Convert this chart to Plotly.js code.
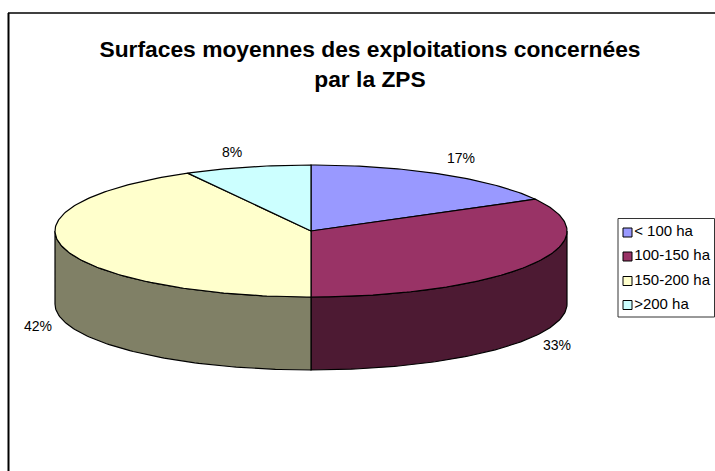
<!DOCTYPE html>
<html>
<head>
<meta charset="utf-8">
<script src="https://cdn.plot.ly/plotly-3.0.1.min.js"></script>
<style>html,body{margin:0;padding:0;background:#fff}#chart{width:715px;height:471px}</style>
</head>
<body>
<div id="chart"></div>
<script>
var categories = ['< 100 ha', '100-150 ha', '150-200 ha', '>200 ha'];
var shares = [17, 33, 42, 8];
var topColors = ['#9999FF', '#993366', '#FFFFCC', '#CCFFFF'];
var sideColors = ['#4D4D80', '#4D1A33', '#808066', '#668080'];
var titleText = 'Surfaces moyennes des exploitations concernées<br>par la ZPS';

// Pie geometry, in page pixels
var W = 715, H = 471, CX = 311, CY = 231, RX = 256, RY = 66, DEPTH = 73;
var FONT = '"Liberation Sans", Arial, sans-serif';

function pt(deg, drop) {
  var a = deg * Math.PI / 180;
  return [CX + RX * Math.sin(a), CY - RY * Math.cos(a) + (drop || 0)];
}
function arc(a, b, drop) {
  var out = [], n = Math.max(2, Math.ceil(Math.abs(b - a)));
  for (var i = 0; i <= n; i++) out.push(pt(a + (b - a) * i / n, drop));
  return out;
}
function polyTrace(points, color) {
  return {
    type: 'scatter', mode: 'lines', fill: 'toself', fillcolor: color,
    x: points.map(function (p) { return p[0]; }),
    y: points.map(function (p) { return p[1]; }),
    line: { color: '#000', width: 1.2 }, hoverinfo: 'skip', showlegend: false
  };
}

var total = shares.reduce(function (s, v) { return s + v; }, 0);
var sideTraces = [], topTraces = [], start = 0;
shares.forEach(function (v, i) {
  var end = start + v / total * 360;
  var a = Math.max(start, 90), b = Math.min(end, 270);
  if (a < b) {
    sideTraces.push(polyTrace(arc(a, b, 0).concat(arc(b, a, DEPTH)).concat([pt(a, 0)]), sideColors[i]));
  }
  topTraces.push(polyTrace([[CX, CY]].concat(arc(start, end, 0)).concat([[CX, CY]]), topColors[i]));
  start = end;
});

// Percent labels, placed by hand around the pie
var labelX = [461, 557, 38, 232];
var labelY = [158, 345, 326, 152];
var annotations = shares.map(function (v, i) {
  return {
    xref: 'x', yref: 'y', x: labelX[i], y: labelY[i], text: v + '%', showarrow: false,
    xanchor: 'center', yanchor: 'middle', font: { family: FONT, size: 14, color: '#000' }
  };
});

// Legend
var legendY = [232.5, 256.5, 281, 305];
var legendTraces = categories.map(function (c, i) {
  return {
    type: 'scatter', mode: 'markers+text', name: c,
    x: [627.5], y: [legendY[i]], text: [c], textposition: 'middle right',
    textfont: { family: FONT, size: 15, color: '#000' },
    marker: { symbol: 'square', size: 9, color: topColors[i], line: { color: '#000', width: 1 } },
    hoverinfo: 'skip', showlegend: false, cliponaxis: false
  };
});

var layout = {
  width: W, height: H, autosize: false,
  margin: { l: 0, r: 0, t: 0, b: 0, pad: 0 },
  paper_bgcolor: '#fff', plot_bgcolor: '#fff', showlegend: false,
  title: {
    text: titleText, xref: 'paper', yref: 'paper', x: 370 / W, xanchor: 'center',
    y: 1 - 57 / H, yanchor: 'top', font: { family: FONT, size: 22.8, color: '#000', weight: 'bold' }
  },
  xaxis: { range: [0, W], visible: false, fixedrange: true },
  yaxis: { range: [H, 0], visible: false, fixedrange: true },
  annotations: annotations,
  shapes: [
    { type: 'line', xref: 'x', yref: 'y', x0: 8, x1: W, y0: 13, y1: 13, line: { color: '#000', width: 1.5 } },
    { type: 'line', xref: 'x', yref: 'y', x0: 8.5, x1: 8.5, y0: 13, y1: H, line: { color: '#000', width: 2 } },
    { type: 'rect', xref: 'x', yref: 'y', x0: 618, x1: 714.5, y0: 218.5, y1: 317, layer: 'below',
      line: { color: '#333', width: 1 }, fillcolor: '#fff' }
  ]
};

Plotly.newPlot('chart', sideTraces.concat(topTraces, legendTraces), layout, { staticPlot: true, displayModeBar: false });
</script>
</body>
</html>
